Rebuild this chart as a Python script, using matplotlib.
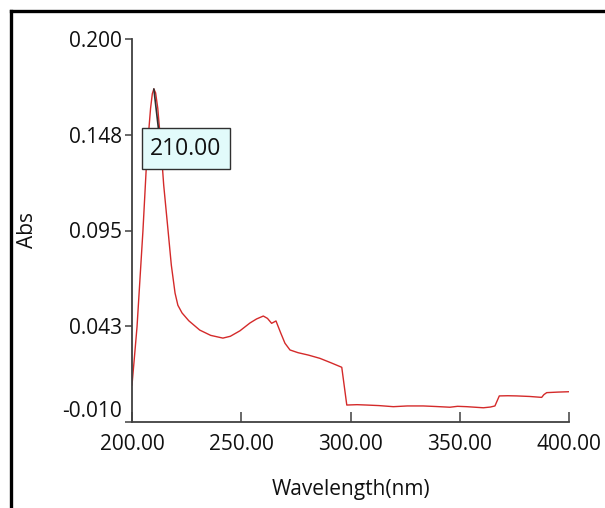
import matplotlib
matplotlib.use("Agg")
import matplotlib.pyplot as plt
from matplotlib.lines import Line2D

# ---- data ----
wavelength = [200.0, 201.0, 202.3, 205.0, 207.0, 208.5, 209.3, 210.0, 210.8, 211.8, 213.0, 214.5,
              216.5, 218.0, 219.7, 221.0, 222.9, 226.0, 231.0, 236.0, 241.6, 245.0,
              249.4, 254.0, 257.0, 260.1, 262.0, 263.9, 265.9, 268.0, 270.0, 272.3,
              276.0, 280.7, 286.0, 291.0, 296.0, 298.3, 303.0, 307.4, 313.0, 319.6,
              326.0, 333.3, 339.0, 345.5, 349.0, 353.2, 357.0, 360.8, 364.0, 366.1,
              368.1, 372.0, 376.1, 382.0, 387.5, 388.5, 389.8, 395.0, 400.0]
absorbance = [0.0103, 0.0240, 0.0422, 0.0947, 0.1400, 0.1620, 0.1700, 0.1726, 0.1705, 0.1620, 0.1450, 0.1200,
              0.0950, 0.0760, 0.0607, 0.0540, 0.0498, 0.0455, 0.0404, 0.0375, 0.0360, 0.0370,
              0.0400, 0.0443, 0.0465, 0.0481, 0.0468, 0.0441, 0.0454, 0.0390, 0.0332, 0.0295,
              0.0280, 0.0267, 0.0249, 0.0225, 0.0200, -0.0007, -0.0005, -0.0007, -0.0010, -0.0016,
              -0.0012, -0.0012, -0.0015, -0.0019, -0.0014, -0.0016, -0.0019, -0.0022, -0.0018, -0.0012,
              0.0043, 0.0044, 0.0043, 0.0040, 0.0035, 0.0050, 0.0061, 0.0064, 0.0066]

xticks = [200, 250, 300, 350, 400]
xtick_labels = ["200.00", "250.00", "300.00", "350.00", "400.00"]
yticks = [-0.010, 0.0425, 0.095, 0.1475, 0.200]
ytick_labels = ["-0.010", "0.043", "0.095", "0.148", "0.200"]
peak_label = "210.00"

W, H, DPI = 605, 508, 100
fig = plt.figure(figsize=(W / DPI, H / DPI), dpi=DPI)
plt.rcParams['font.family'] = ['Open Sans', 'DejaVu Sans']

ax = fig.add_axes([132 / W, 1 - 422 / H, (569 - 132) / W, (422 - 39) / H])
ax.plot(wavelength, absorbance, color='#d42a2a', lw=1.0)

ax.set_xlim(200, 400)
ax.set_ylim(-0.010, 0.200)
ax.set_xticks(xticks)
ax.set_xticklabels(xtick_labels)
ax.set_yticks(yticks)
ax.set_yticklabels(ytick_labels)

for s in ['top', 'right']:
    ax.spines[s].set_visible(False)
for s in ['left', 'bottom']:
    ax.spines[s].set_color('#404040')
    ax.spines[s].set_linewidth(1.3)

ax.tick_params(axis='x', direction='in', length=7, width=1.1, color='#404040',
               labelsize=15, pad=9, labelcolor='#111111')
ax.tick_params(axis='y', direction='out', length=5, width=1.1, color='#404040',
               labelsize=15, pad=2, labelcolor='#111111')
# bottom y label sits above the axis line
ax.get_yticklabels()[0].set_va('bottom')

ax.set_xlabel("Wavelength(nm)", fontsize=15, labelpad=17, color='#111111')
ax.set_ylabel("Abs", fontsize=15, labelpad=18, color='#111111')

# peak annotation
i_peak = max(range(len(absorbance)), key=lambda i: absorbance[i])
ax.annotate(peak_label, xy=(wavelength[i_peak], absorbance[i_peak]),
            xytext=(23, -43), textcoords='offset points', ha='center', va='center',
            fontsize=16.5, color='#111111',
            bbox=dict(boxstyle='square,pad=0.36', fc='#e2fbfb', ec='#303030', lw=1.0),
            arrowprops=dict(arrowstyle='-', color='#303030', lw=1.2, relpos=(0.13, 1.0),
                            shrinkA=0, shrinkB=0))

# outer frame (top and left edges of the surrounding border)
fig.add_artist(Line2D([10.5 / W, 1], [1 - 11 / H, 1 - 11 / H], transform=fig.transFigure,
                      color='black', lw=2.4))
fig.add_artist(Line2D([10.5 / W, 10.5 / W], [0, 1 - 11 / H], transform=fig.transFigure,
                      color='black', lw=2.4))

fig.savefig("out.png", dpi=DPI)
